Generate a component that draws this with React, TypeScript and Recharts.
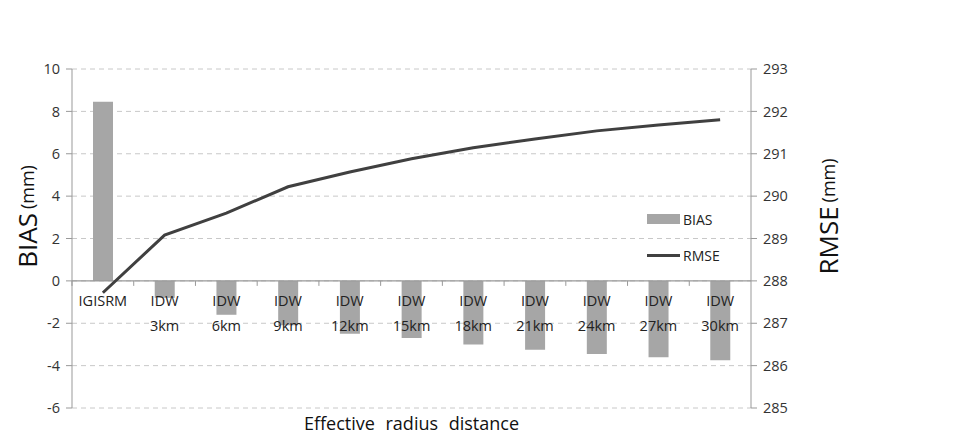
import {
  Bar,
  CartesianGrid,
  ComposedChart,
  Line,
  ReferenceLine,
  XAxis,
  YAxis,
} from "recharts";

const CATEGORIES = [
  "IGISRM",
  "IDW\n3km",
  "IDW\n6km",
  "IDW\n9km",
  "IDW\n12km",
  "IDW\n15km",
  "IDW\n18km",
  "IDW\n21km",
  "IDW\n24km",
  "IDW\n27km",
  "IDW\n30km",
];
const BIAS = [8.45, -0.8, -1.6, -2.1, -2.5, -2.7, -3.0, -3.25, -3.45, -3.6, -3.75];
const RMSE = [287.72, 289.08, 289.6, 290.22, 290.57, 290.88, 291.14, 291.35, 291.54, 291.68, 291.8];
const BIAS_TICKS = [-6, -4, -2, 0, 2, 4, 6, 8, 10];
const RMSE_TICKS = [285, 286, 287, 288, 289, 290, 291, 292, 293];

const W = 960;
const H = 448;
const TOP = 69;
const X_H = 40;
const FONT = "'Open Sans', 'Noto Sans', sans-serif";

const data = CATEGORIES.map((name, i) => ({ name, bias: BIAS[i], rmse: RMSE[i] }));

// labels sit under the zero line, not at the bottom of the plot
const plotH = H - TOP - X_H;
const yMax = BIAS_TICKS[BIAS_TICKS.length - 1];
const yMin = BIAS_TICKS[0];
const zeroY = TOP + (plotH * yMax) / (yMax - yMin);
const plotBottom = TOP + plotH;
const bandW = (751 - 72) / CATEGORIES.length;

function CategoryTick(props: any) {
  const { x, payload } = props;
  const lines = String(payload.value).split("\n");
  const y0 = props.y - (plotBottom - zeroY);
  return (
    <g>
      <line x1={x - bandW / 2} x2={x - bandW / 2} y1={zeroY} y2={zeroY + 5} stroke="#999" />
      {lines.map((l, i) => (
        <text
          key={i}
          x={x}
          y={y0 + 17 + i * 25}
          textAnchor="middle"
          fontSize={14.5}
          fill="#222"
          fontFamily={FONT}
        >
          {l}
        </text>
      ))}
    </g>
  );
}

function AxisTitle({ viewBox, big, x }: any) {
  const cy = viewBox.y + viewBox.height / 2 - 22;
  return (
    <text
      x={0}
      y={0}
      transform={`translate(${x},${cy}) rotate(-90)`}
      textAnchor="middle"
      dominantBaseline="central"
      fontFamily={FONT}
      fill="#111"
    >
      <tspan fontSize={26}>{big}</tspan>
      <tspan fontSize={18} dx={4}>(mm)</tspan>
    </text>
  );
}

function LegendBox() {
  const row = { display: "flex", alignItems: "center", height: 36 } as const;
  return (
    <div
      style={{
        position: "absolute",
        left: 647,
        top: 201,
        fontFamily: FONT,
        fontSize: 14,
        color: "#222",
      }}
    >
      <div style={row}>
        <span style={{ width: 33, height: 10, background: "#a6a6a6", display: "inline-block" }} />
        <span style={{ marginLeft: 3 }}>BIAS</span>
      </div>
      <div style={row}>
        <span style={{ width: 33, height: 3, background: "#404040", display: "inline-block" }} />
        <span style={{ marginLeft: 3 }}>RMSE</span>
      </div>
    </div>
  );
}

export default function App() {
  return (
    <div style={{ width: W, height: H, position: "relative" }}>
      <style>{`body{margin:0}`}</style>
      <ComposedChart width={W} height={H} data={data} margin={{ top: TOP, right: 109, bottom: 0, left: 0 }}>
        <CartesianGrid vertical={false} stroke="#c8c8c8" strokeDasharray="5 4" yAxisId="left" />
        <XAxis
          dataKey="name"
          height={X_H}
          axisLine={false}
          tickLine={false}
          interval={0}
          tick={<CategoryTick />}
          label={{
            value: "Effective radius distance",
            position: "insideBottom",
            offset: 18,
            style: { fontSize: 18, fill: "#111", fontFamily: FONT, wordSpacing: 6 },
          }}
        />
        <YAxis
          yAxisId="left"
          width={72}
          domain={[-6, 10]}
          ticks={BIAS_TICKS}
          interval={0}
          stroke="#999"
          tickSize={6}
          tick={{ fontSize: 14.5, fill: "#333", fontFamily: FONT }}
          tickMargin={6}
          label={{ content: (p: any) => <AxisTitle {...p} big="BIAS" x={27} /> }}
        />
        <YAxis
          yAxisId="right"
          orientation="right"
          width={100}
          domain={[285, 293]}
          ticks={RMSE_TICKS}
          interval={0}
          stroke="#999"
          tickSize={6}
          tick={{ fontSize: 14.5, fill: "#333", fontFamily: FONT, textAnchor: "start" }}
          tickMargin={6}
          label={{ content: (p: any) => <AxisTitle {...p} big="RMSE" x={828} /> }}
        />
        <ReferenceLine yAxisId="left" y={0} stroke="#999" strokeWidth={1.2} />
        <Bar yAxisId="left" dataKey="bias" name="BIAS" fill="#a6a6a6" barSize={20} isAnimationActive={false} />
        <Line
          yAxisId="right"
          dataKey="rmse"
          name="RMSE"
          type="linear"
          stroke="#404040"
          strokeWidth={3}
          dot={false}
          isAnimationActive={false}
        />
      </ComposedChart>
      <LegendBox />
    </div>
  );
}
